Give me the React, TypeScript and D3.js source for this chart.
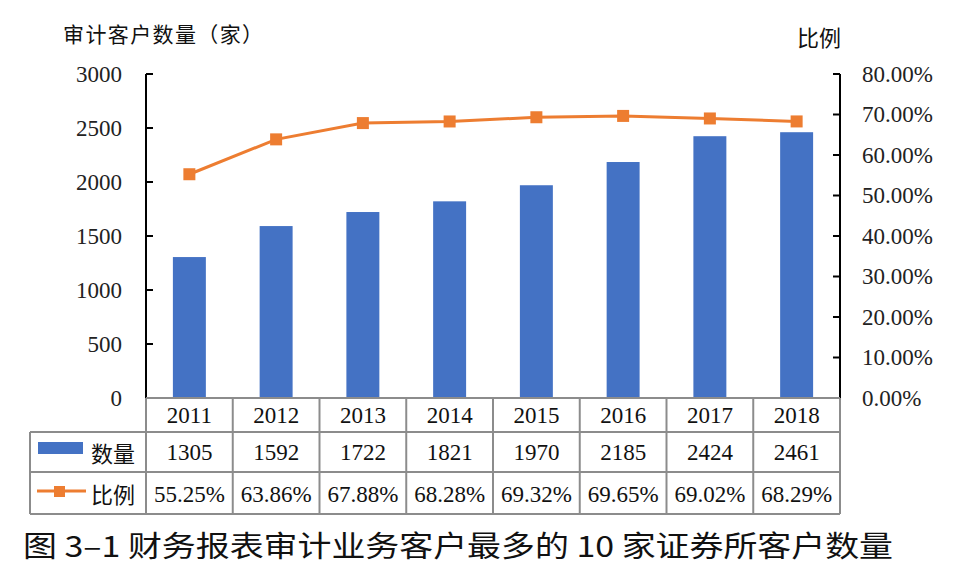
import * as d3 from "d3"

const years = ["2011", "2012", "2013", "2014", "2015", "2016", "2017", "2018"]
const counts = [1305, 1592, 1722, 1821, 1970, 2185, 2424, 2461]
const ratios = [55.25, 63.86, 67.88, 68.28, 69.32, 69.65, 69.02, 68.29]
const leftTicks = [0, 500, 1000, 1500, 2000, 2500, 3000]
const rightTicks = [0, 10, 20, 30, 40, 50, 60, 70, 80]

const W = 966
const H = 587
const plot = { left: 146, right: 840, top: 74, bottom: 398 }
const rows = [398, 432, 472, 514]
const tableLeft = 30

const BLUE = "#4472C4"
const ORANGE = "#ED7D31"
const GRID = "#8c8c8c"
const serif = "'Liberation Serif', 'Times New Roman', serif"
const cjk = "'Noto Sans CJK SC', sans-serif"

export default function App() {
  const x = d3.scaleBand().domain(years).range([plot.left, plot.right]).padding(0)
  const yL = d3.scaleLinear().domain([0, 3000]).range([plot.bottom, plot.top])
  const yR = d3.scaleLinear().domain([0, 80]).range([plot.bottom, plot.top])
  const bw = x.bandwidth() * 0.38
  const cx = (d: string) => (x(d) as number) + x.bandwidth() / 2

  const line = d3
    .line<number>()
    .x((_, i) => cx(years[i]))
    .y((d) => yR(d))

  return (
    <svg width={W} height={H} style={{ position: "absolute", left: 0, top: 0, background: "#fff" }}>
      {/* axis titles */}
      <text x={63} y={42} fontFamily={cjk} fontSize={21} fill="#111" textLength={200} lengthAdjust="spacing">
        审计客户数量（家）
      </text>
      <text x={797} y={46} fontFamily={cjk} fontSize={22} fill="#111">
        比例
      </text>

      {/* bars */}
      {counts.map((v, i) => (
        <rect
          key={years[i]}
          x={cx(years[i]) - bw / 2}
          y={yL(v)}
          width={bw}
          height={plot.bottom - yL(v)}
          fill={BLUE}
        />
      ))}

      {/* line */}
      <path d={line(ratios) || ""} fill="none" stroke={ORANGE} strokeWidth={3} />
      {ratios.map((v, i) => (
        <rect key={"m" + i} x={cx(years[i]) - 6} y={yR(v) - 6} width={12} height={12} fill={ORANGE} />
      ))}

      {/* left axis */}
      <line x1={plot.left} x2={plot.left} y1={plot.top} y2={plot.bottom} stroke="#000" strokeWidth={2} />
      {leftTicks.map((t) => (
        <g key={"l" + t}>
          <line x1={plot.left} x2={plot.left + 7} y1={yL(t)} y2={yL(t)} stroke="#000" strokeWidth={2} />
          <text
            x={122}
            y={yL(t)}
            textAnchor="end"
            dominantBaseline="central"
            fontFamily={serif}
            fontSize={23}
            fill="#222"
          >
            {t}
          </text>
        </g>
      ))}

      {/* right axis */}
      <line x1={plot.right} x2={plot.right} y1={plot.top} y2={plot.bottom} stroke="#000" strokeWidth={2} />
      {rightTicks.map((t) => (
        <g key={"r" + t}>
          <line x1={plot.right - 7} x2={plot.right} y1={yR(t)} y2={yR(t)} stroke="#000" strokeWidth={2} />
          <text x={862} y={yR(t)} dominantBaseline="central" fontFamily={serif} fontSize={23} fill="#222">
            {t.toFixed(2) + "%"}
          </text>
        </g>
      ))}

      {/* data table */}
      <g stroke={GRID} strokeWidth={2}>
        <line x1={plot.left} x2={plot.right} y1={rows[0]} y2={rows[0]} />
        <line x1={tableLeft} x2={plot.right} y1={rows[1]} y2={rows[1]} />
        <line x1={tableLeft} x2={plot.right} y1={rows[2]} y2={rows[2]} />
        <line x1={tableLeft} x2={plot.right} y1={rows[3]} y2={rows[3]} />
        <line x1={tableLeft} x2={tableLeft} y1={rows[1]} y2={rows[3]} />
        {years.map((d) => (
          <line key={"v" + d} x1={x(d)} x2={x(d)} y1={rows[0]} y2={rows[3]} />
        ))}
        <line x1={plot.right} x2={plot.right} y1={rows[0]} y2={rows[3]} />
      </g>

      {years.map((d, i) => (
        <g key={"t" + d} fontFamily={serif} fontSize={23} fill="#111" textAnchor="middle">
          <text x={cx(d)} y={(rows[0] + rows[1]) / 2} dominantBaseline="central">
            {d}
          </text>
          <text x={cx(d)} y={(rows[1] + rows[2]) / 2} dominantBaseline="central">
            {counts[i]}
          </text>
          <text x={cx(d)} y={(rows[2] + rows[3]) / 2 + 1} dominantBaseline="central">
            {ratios[i].toFixed(2) + "%"}
          </text>
        </g>
      ))}

      {/* legend cells */}
      <rect x={38} y={442} width={45} height={12} fill={BLUE} />
      <text x={91} y={(rows[1] + rows[2]) / 2} dominantBaseline="central" fontFamily={cjk} fontSize={22} fill="#111">
        数量
      </text>
      <line x1={37} x2={86} y1={491} y2={491} stroke={ORANGE} strokeWidth={3} />
      <rect x={54} y={486} width={11} height={11} fill={ORANGE} />
      <text x={91} y={(rows[2] + rows[3]) / 2} dominantBaseline="central" fontFamily={cjk} fontSize={22} fill="#111">
        比例
      </text>

      {/* caption */}
      <text
        x={23}
        y={557}
        fontFamily={cjk}
        fontSize={29}
        fontWeight={400}
        fill="#111"
        textLength={870}
        lengthAdjust="spacingAndGlyphs"
      >
        图 3–1 财务报表审计业务客户最多的 10 家证券所客户数量
      </text>
    </svg>
  )
}
